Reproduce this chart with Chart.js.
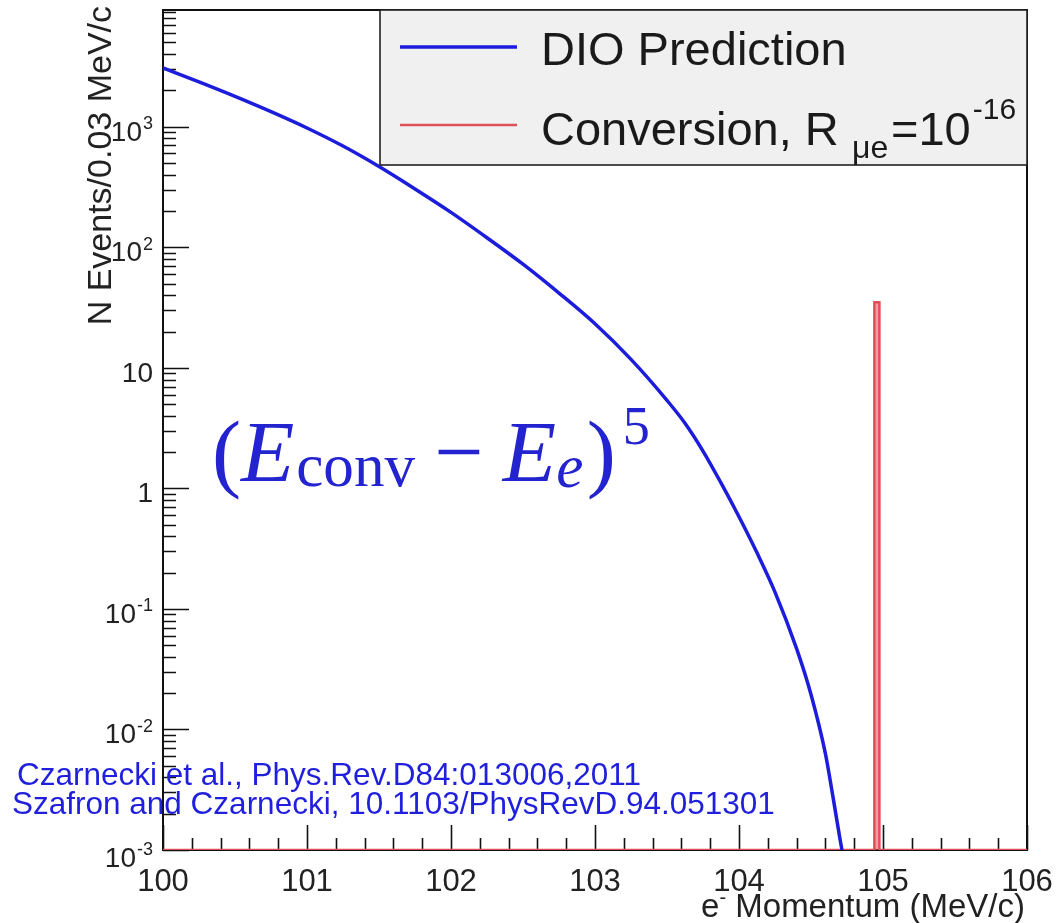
<!DOCTYPE html>
<html>
<head>
<meta charset="utf-8">
<script src="https://cdn.jsdelivr.net/npm/chart.js@4.4.1/dist/chart.umd.min.js"></script>
<style>
  html, body { margin: 0; padding: 0; background: #fff; }
</style>
</head>
<body>
<canvas id="dioChart" width="1058" height="923"></canvas>
<script>
// values (momentum in MeV/c, events per 0.03 MeV/c)
const momentum = [100.00, 100.25, 100.50, 100.75, 101.00, 101.25, 101.50, 101.75, 102.00, 102.25,
  102.50, 102.75, 103.00, 103.25, 103.50, 103.625, 103.75, 103.875, 104.00, 104.125,
  104.25, 104.40, 104.50, 104.60, 104.65, 104.70, 104.715];
const dioCounts = [3076, 2355, 1786, 1334, 977, 692, 468, 305, 195, 120,
  72.4, 41.7, 23.2, 11.75, 5.37, 3.47, 2.04, 1.11, 0.582, 0.292,
  0.138, 0.0468, 0.0195, 0.0063, 0.00288, 0.00126, 0.001];

// conversion histogram: bin edges and contents (empty bins sit on the axis floor)
const convEdges = [100, 104.94, 104.975, 106];
const convCounts = [0.001, 35, 0.001, 0.001];

const xTickLabels = ["100", "101", "102", "103", "104", "105", "106"];
const yTickValues = [0.001, 0.01, 0.1, 1, 10, 100, 1000];
const yTickLabels = [["10", "-3"], ["10", "-2"], ["10", "-1"], ["1", ""], ["10", ""], ["10", "2"], ["10", "3"]];

const citations = [
  "Czarnecki et al., Phys.Rev.D84:013006,2011",
  "Szafron and Czarnecki, 10.1103/PhysRevD.94.051301"
];

const BLUE = "#1c1cdc";
const RED = "#e0505a";
const SANS = '"Liberation Sans", Arial, sans-serif';
const SERIF = '"Liberation Serif", "Times New Roman", serif';

function drawSupText(ctx, base, sup, right, baseline, size) {
  ctx.textAlign = "left";
  ctx.textBaseline = "alphabetic";
  const supSize = Math.round(size * 0.66);
  ctx.font = supSize + "px " + SANS;
  const ws = sup ? ctx.measureText(sup).width : 0;
  ctx.font = size + "px " + SANS;
  const wb = ctx.measureText(base).width;
  ctx.fillText(base, right - ws - wb - (sup ? 1 : 0), baseline);
  if (sup) {
    ctx.font = supSize + "px " + SANS;
    ctx.fillText(sup, right - ws, baseline - size * 0.42);
  }
}

const rootDecor = {
  id: "rootDecor",
  beforeDatasetsDraw(chart) {
    const { ctx, chartArea: a, scales } = chart;
    const x = scales.x, y = scales.y;
    ctx.save();
    ctx.strokeStyle = "#111";
    ctx.lineWidth = 2;
    ctx.strokeRect(a.left, a.top, a.right - a.left, a.bottom - a.top);

    ctx.lineWidth = 1.6;
    ctx.beginPath();
    for (let i = 0; i <= 30; i++) {
      const px = Math.round(x.getPixelForValue(100 + i * 0.2)) + 0.5;
      const len = i % 5 === 0 ? 25 : 12;
      ctx.moveTo(px, a.bottom);
      ctx.lineTo(px, a.bottom - len);
    }
    for (let d = -3; d <= 3; d++) {
      for (let k = 1; k <= 9; k++) {
        const v = k * Math.pow(10, d);
        if (v > y.max) break;
        const py = Math.round(y.getPixelForValue(v)) + 0.5;
        const len = k === 1 ? 26 : 13;
        ctx.moveTo(a.left, py);
        ctx.lineTo(a.left + len, py);
      }
    }
    ctx.stroke();
    ctx.restore();
  },
  afterDraw(chart) {
    const { ctx, chartArea: a, scales } = chart;
    const x = scales.x, y = scales.y;
    ctx.save();
    ctx.fillStyle = "#222";

    // y tick labels
    yTickValues.forEach((v, i) => {
      const py = y.getPixelForValue(v);
      const [base, sup] = yTickLabels[i];
      const bl = i === 0 ? py + 17 : py + 14;
      drawSupText(ctx, base, sup, 153, bl, 28);
    });

    // x tick labels
    ctx.font = "31px " + SANS;
    ctx.textAlign = "center";
    ctx.textBaseline = "alphabetic";
    xTickLabels.forEach((t) => {
      ctx.fillText(t, x.getPixelForValue(Number(t)), 891);
    });

    // x title
    ctx.font = "33px " + SANS;
    ctx.textAlign = "right";
    const rest = " Momentum (MeV/c)";
    const wr = ctx.measureText(rest).width;
    ctx.fillText(rest, 1025, 917);
    ctx.font = "20px " + SANS;
    const wm = ctx.measureText("-").width;
    ctx.fillText("-", 1025 - wr, 904);
    ctx.font = "33px " + SANS;
    ctx.fillText("e", 1025 - wr - wm, 917);

    // y title
    ctx.save();
    ctx.translate(111, 6);
    ctx.rotate(-Math.PI / 2);
    ctx.font = "34px " + SANS;
    ctx.textAlign = "right";
    ctx.fillText("N Events/0.03 MeV/c", 0, 0);
    ctx.restore();

    // legend box
    const lx = 380, ly = a.top, lw = a.right - 380, lh = 155;
    ctx.fillStyle = "#f0f0f0";
    ctx.fillRect(lx, ly, lw, lh);
    ctx.strokeStyle = "#222";
    ctx.lineWidth = 1.6;
    ctx.strokeRect(lx, ly, lw, lh);
    ctx.lineCap = "butt";
    ctx.strokeStyle = BLUE;
    ctx.lineWidth = 3.5;
    ctx.beginPath(); ctx.moveTo(400, 47); ctx.lineTo(517, 47); ctx.stroke();
    ctx.strokeStyle = RED;
    ctx.lineWidth = 2.5;
    ctx.beginPath(); ctx.moveTo(400, 125); ctx.lineTo(517, 125); ctx.stroke();

    ctx.fillStyle = "#1a1a1a";
    ctx.textAlign = "left";
    ctx.font = "47px " + SANS;
    ctx.fillText("DIO Prediction", 541, 65);
    ctx.fillText("Conversion, R", 541, 145);
    ctx.font = "32px " + SANS;
    ctx.fillText("\u03bce", 852, 158);
    ctx.font = "47px " + SANS;
    ctx.fillText("=10", 891, 145);
    const w10 = ctx.measureText("=10").width;
    ctx.font = "30px " + SANS;
    ctx.fillText("-16", 891 + w10 + 2, 119);

    // citations
    ctx.fillStyle = "#1f1fdd";
    ctx.font = "31.5px " + SANS;
    ctx.fillText(citations[0], 17, 785);
    ctx.fillText(citations[1], 12, 814);

    // formula (E_conv - E_e)^5, scaled to the width it has in the figure
    const parts = [
      { t: "(", s: 1, dy: 0, it: false, gap: 0 },
      { t: "E", s: 1, dy: 0, it: true, gap: 0 },
      { t: "conv", s: 0.7, dy: 0.06, it: false, gap: 0.02 },
      { t: "\u2212", s: 1, dy: 0, it: false, gap: 0.22 },
      { t: "E", s: 1, dy: 0, it: true, gap: 0.22 },
      { t: "e", s: 0.7, dy: 0.07, it: true, gap: 0 },
      { t: ")", s: 1, dy: 0, it: false, gap: 0.04 },
      { t: "5", s: 0.62, dy: -0.42, it: false, gap: 0.08 }
    ];
    const widthAt = (F) => parts.reduce((w, p) => {
      ctx.font = (p.it ? "italic " : "") + (F * p.s) + "px " + SERIF;
      return w + ctx.measureText(p.t).width + p.gap * F;
    }, 0);
    const F = 100 * 438 / widthAt(100);
    ctx.fillStyle = "#2323d0";
    let fx = 212;
    const fb = 481;
    parts.forEach((p) => {
      ctx.font = (p.it ? "italic " : "") + (F * p.s) + "px " + SERIF;
      fx += p.gap * F;
      ctx.fillText(p.t, fx, fb + p.dy * F);
      fx += ctx.measureText(p.t).width;
    });
    ctx.restore();
  }
};

const ctx = document.getElementById("dioChart").getContext("2d");

new Chart(ctx, {
  type: "line",
  data: {
    datasets: [
      {
        label: "DIO Prediction",
        data: momentum.map((m, i) => ({ x: m, y: dioCounts[i] })),
        borderColor: BLUE,
        borderWidth: 3.5,
        pointRadius: 0,
        cubicInterpolationMode: "monotone",
      },
      {
        label: "Conversion",
        data: convEdges.map((m, i) => ({ x: m, y: convCounts[i] })),
        borderColor: RED,
        backgroundColor: "rgba(224, 80, 90, 0.55)",
        fill: "start",
        borderWidth: 2.5,
        pointRadius: 0,
        stepped: "before",
      },
    ],
  },
  options: {
    responsive: false,
    animation: false,
    layout: { padding: { top: 10, right: 31, left: 0, bottom: 0 } },
    plugins: { legend: { display: false }, tooltip: { enabled: false } },
    scales: {
      x: {
        type: "linear",
        min: 100,
        max: 106,
        grid: { display: false },
        border: { display: false },
        ticks: { display: false },
        afterFit: (s) => { s.height = 73; },
      },
      y: {
        type: "logarithmic",
        min: 0.001,
        max: 9300,
        grid: { display: false },
        border: { display: false },
        ticks: { display: false },
        afterFit: (s) => { s.width = 163; },
      },
    },
  },
  plugins: [rootDecor],
});
</script>
</body>
</html>
